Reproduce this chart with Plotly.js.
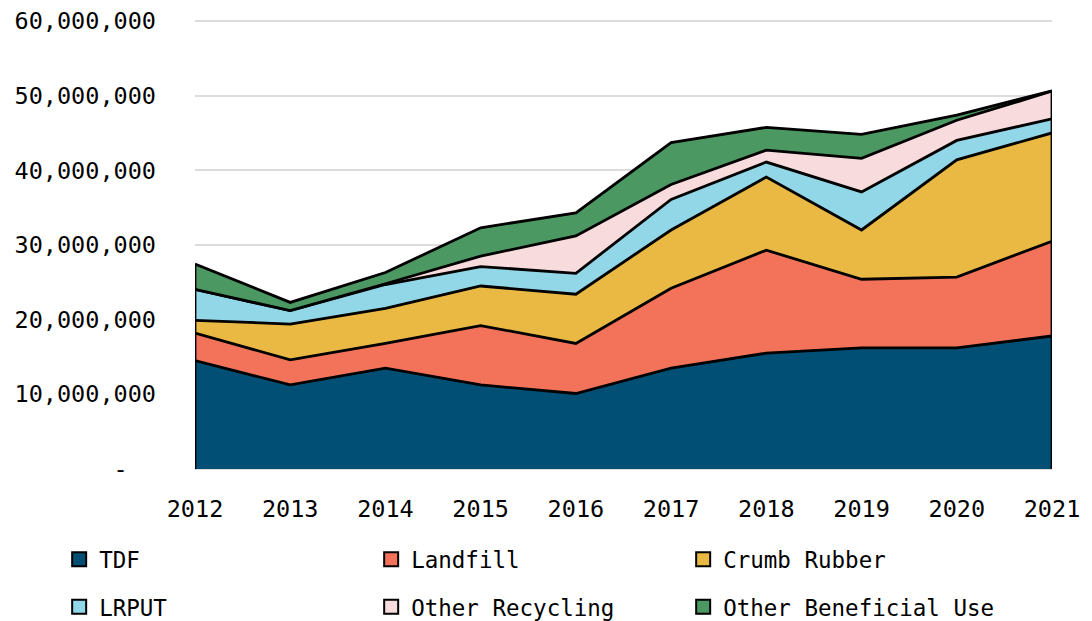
<!DOCTYPE html>
<html>
<head>
<meta charset="utf-8">
<script src="https://cdn.plot.ly/plotly-3.0.1.min.js"></script>
<style>html,body{margin:0;padding:0;background:#fff;}#chart{width:1092px;height:621px;}</style>
</head>
<body>
<div id="chart"></div>
<script>
const years = [2012, 2013, 2014, 2015, 2016, 2017, 2018, 2019, 2020, 2021];
const tdf = [14500000, 11250000, 13500000, 11250000, 10100000, 13500000, 15500000, 16200000, 16200000, 17800000];
const landfill = [3700000, 3350000, 3300000, 7950000, 6700000, 10700000, 13800000, 9200000, 9500000, 12700000];
const crumbRubber = [1700000, 4800000, 4700000, 5300000, 6600000, 7800000, 9800000, 6600000, 15700000, 14500000];
const lrput = [4150000, 1800000, 3200000, 2600000, 2800000, 4100000, 2000000, 5100000, 2600000, 1900000];
const otherRecycling = [0, 0, 100000, 1400000, 5000000, 2000000, 1600000, 4500000, 2700000, 3700000];
const otherBeneficialUse = [3400000, 1100000, 1500000, 3800000, 3100000, 5600000, 3050000, 3200000, 700000, 50000];
const seriesNames = ["TDF", "Landfill", "Crumb Rubber", "LRPUT", "Other Recycling", "Other Beneficial Use"];
const yTickVals = [0, 10000000, 20000000, 30000000, 40000000, 50000000, 60000000];
const yTickText = ["-\u00a0\u00a0", "10,000,000", "20,000,000", "30,000,000", "40,000,000", "50,000,000", "60,000,000"];

const seriesData = [tdf, landfill, crumbRubber, lrput, otherRecycling, otherBeneficialUse];
const colors = ["#014f75", "#f2735a", "#e9b944", "#91d7e8", "#f8dcdd", "#4b9863"];
const FONT = "DejaVu Sans Mono";

const traces = [];
seriesData.forEach((vals, i) => {
  traces.push({
    type: "scatter", mode: "lines", x: years, y: vals, name: seriesNames[i],
    stackgroup: "one", fillcolor: colors[i],
    line: {color: "#000", width: 2.8}, showlegend: false, hoverinfo: "x+y+name"
  });
});
// vertical edge outlines at first and last year, from stacked totals
const totals = years.map((_, j) => seriesData.reduce((s, arr) => s + arr[j], 0));
const n = years.length;
traces.push({
  type: "scatter", mode: "lines",
  x: [years[0], years[0], null, years[n-1], years[n-1]],
  y: [0, totals[0], null, 0, totals[n-1]],
  line: {color: "#000", width: 2.8}, showlegend: false, hoverinfo: "skip"
});
// legend entries
seriesData.forEach((vals, i) => {
  traces.push({
    type: "scatter", mode: "markers", x: [null], y: [null], name: seriesNames[i],
    marker: {symbol: "square", size: 14, color: colors[i], line: {color: "#000", width: 2}},
    legend: i < 3 ? "legend" : "legend2"
  });
});

const legendCommon = {
  orientation: "h", xanchor: "left", yanchor: "middle", traceorder: "normal",
  entrywidth: 267, entrywidthmode: "pixels",
  font: {family: FONT, size: 22.5, color: "#000"},
  bgcolor: "rgba(0,0,0,0)", itemwidth: 30
};

const layout = {
  width: 1092, height: 621,
  margin: {l: 195, r: 40, t: 18, b: 150.9, autoexpand: false},
  paper_bgcolor: "#fff", plot_bgcolor: "#fff",
  font: {family: FONT, size: 22, color: "#000"},
  xaxis: {
    range: [2012, 2021], tickvals: years, ticktext: years.map(String),
    showgrid: false, zeroline: false, showline: false, ticks: "",
    ticklabelstandoff: 22, tickfont: {family: FONT, size: 23.5, color: "#000"}
  },
  yaxis: {
    range: [-150000, 60400000], tickvals: yTickVals, ticktext: yTickText,
    showgrid: true, gridcolor: "#dcdcdc", gridwidth: 2, zeroline: false, showline: false,
    ticks: "", ticklabelstandoff: 38, tickfont: {family: FONT, size: 23.5, color: "#000"}
  },
  legend: Object.assign({x: -0.1585, y: -0.1985}, legendCommon),
  legend2: Object.assign({x: -0.1585, y: -0.3035}, legendCommon),
  showlegend: true
};

Plotly.newPlot("chart", traces, layout, {displayModeBar: false, staticPlot: true});
</script>
</body>
</html>
